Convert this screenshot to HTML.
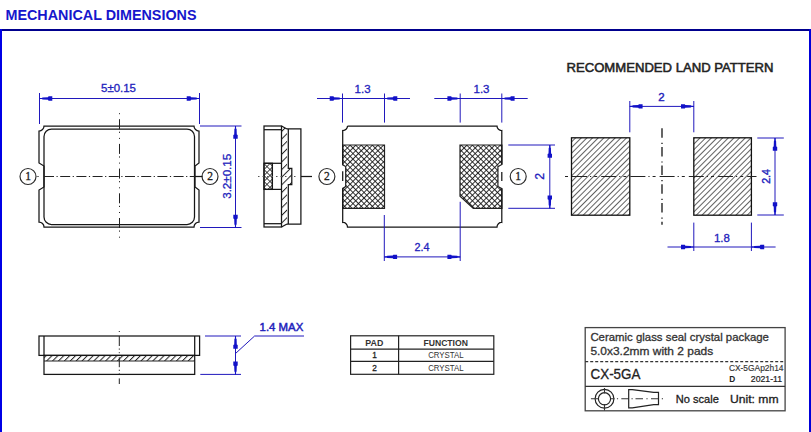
<!DOCTYPE html>
<html><head><meta charset="utf-8"><style>
html,body{margin:0;padding:0;background:#fff;width:811px;height:432px;overflow:hidden}
svg{display:block}
text{font-family:"Liberation Sans",sans-serif}
</style></head><body>
<svg width="811" height="432" viewBox="0 0 811 432">
<defs>
<pattern id="h" width="4" height="4" patternUnits="userSpaceOnUse" patternTransform="rotate(45)"><line x1="0.5" y1="0" x2="0.5" y2="4" stroke="#3a3a3a" stroke-width="0.8"/></pattern>
<pattern id="hs" width="5.4" height="5.4" patternUnits="userSpaceOnUse" patternTransform="rotate(45)"><line x1="0.5" y1="0" x2="0.5" y2="5.4" stroke="#222" stroke-width="1"/></pattern>
<pattern id="h2" width="4.17" height="4.17" patternUnits="userSpaceOnUse" patternTransform="rotate(45)"><rect x="0" y="0" width="1.0" height="4.17" fill="#222"/></pattern>
<pattern id="xh" width="3.93" height="3.93" patternUnits="userSpaceOnUse" patternTransform="rotate(45)"><line x1="0.45" y1="0" x2="0.45" y2="3.93" stroke="#111" stroke-width="0.9"/><line x1="0" y1="0.45" x2="3.93" y2="0.45" stroke="#111" stroke-width="0.9"/></pattern>
<pattern id="xhl" width="4.2" height="4.2" patternUnits="userSpaceOnUse" patternTransform="translate(264 163) rotate(45)"><line x1="0.4" y1="0" x2="0.4" y2="4.2" stroke="#222" stroke-width="0.8"/><line x1="0" y1="0.4" x2="4.2" y2="0.4" stroke="#222" stroke-width="0.8"/></pattern>
</defs>
<rect x="0" y="29" width="811" height="2" fill="#00008e"/>
<rect x="0" y="29" width="2" height="403" fill="#0000e6"/>
<rect x="809" y="29" width="2" height="403" fill="#0000d8"/>
<text x="5.5" y="20.1" font-size="15.4" fill="#1616cc" font-weight="bold" text-anchor="start" textLength="191" lengthAdjust="spacingAndGlyphs">MECHANICAL DIMENSIONS</text>
<path d="M44,126 H194 A5 5 0 0 0 199,131 V163 L195,166 V187 L199,190 V222 A5 5 0 0 0 194,227 H44 A5 5 0 0 0 39,222 V190 L44,187 V166 L39,163 V131 A5 5 0 0 0 44,126 Z" fill="none" stroke="#161616" stroke-width="1.25"/>
<rect x="44" y="129" width="150.5" height="95.5" rx="7.5" fill="none" stroke="#161616" stroke-width="1.25"/>
<line x1="44" y1="176.5" x2="195" y2="176.5" stroke="#222" stroke-width="1" stroke-dasharray="10 2.5 1.2 2.5"/>
<line x1="119.5" y1="113.2" x2="119.5" y2="241" stroke="#222" stroke-width="1" stroke-dasharray="1 5 10 2.5 1.2 5"/>
<circle cx="28" cy="176.5" r="8.0" fill="none" stroke="#2a2a2a" stroke-width="1.15"/>
<text x="28" y="180.0" font-size="11.5" fill="#222" font-weight="normal" text-anchor="middle" font-family="Liberation Serif" style="font-family:'Liberation Serif',serif" stroke="#222" stroke-width="0.3">1</text>
<circle cx="210" cy="176.5" r="8.0" fill="none" stroke="#2a2a2a" stroke-width="1.15"/>
<text x="210" y="180.0" font-size="11.5" fill="#222" font-weight="normal" text-anchor="middle" font-family="Liberation Serif" style="font-family:'Liberation Serif',serif" stroke="#222" stroke-width="0.3">2</text>
<line x1="36" y1="176.5" x2="39" y2="176.5" stroke="#777" stroke-width="1" />
<line x1="195" y1="176.5" x2="202.5" y2="176.5" stroke="#161616" stroke-width="1.25" />
<line x1="39.5" y1="93" x2="39.5" y2="124" stroke="#2018bc" stroke-width="1" />
<line x1="199.5" y1="93" x2="199.5" y2="124" stroke="#2018bc" stroke-width="1" />
<line x1="39.5" y1="98.5" x2="199.5" y2="98.5" stroke="#2018bc" stroke-width="1" />
<polygon points="39.50,98.00 42.00,97.90 42.50,97.40 48.00,97.20 48.50,96.30 52.30,96.30 52.30,100.70 48.50,100.70 48.00,99.80 42.50,99.60 42.00,99.10 39.50,99.00" fill="#1212c8"/>
<polygon points="199.50,98.00 197.00,97.90 196.50,97.40 191.00,97.20 190.50,96.30 186.70,96.30 186.70,100.70 190.50,100.70 191.00,99.80 196.50,99.60 197.00,99.10 199.50,99.00" fill="#1212c8"/>
<text x="118.5" y="92.3" font-size="10.5" fill="#2222bc" font-weight="normal" text-anchor="middle" textLength="35" lengthAdjust="spacingAndGlyphs" stroke="#2222bc" stroke-width="0.3">5±0.15</text>
<line x1="200" y1="126" x2="241.5" y2="126" stroke="#2018bc" stroke-width="1" />
<line x1="200" y1="227.5" x2="241.5" y2="227.5" stroke="#2018bc" stroke-width="1" />
<line x1="235.5" y1="126" x2="235.5" y2="227.5" stroke="#2018bc" stroke-width="1" />
<polygon points="235.00,126.00 234.90,128.50 234.40,129.00 234.20,134.50 233.30,135.00 233.30,138.80 237.70,138.80 237.70,135.00 236.80,134.50 236.60,129.00 236.10,128.50 236.00,126.00" fill="#1212c8"/>
<polygon points="235.00,227.50 234.90,225.00 234.40,224.50 234.20,219.00 233.30,218.50 233.30,214.70 237.70,214.70 237.70,218.50 236.80,219.00 236.60,224.50 236.10,225.00 236.00,227.50" fill="#1212c8"/>
<text x="231.2" y="176.3" font-size="10.5" fill="#2222bc" font-weight="normal" text-anchor="middle" textLength="45" lengthAdjust="spacingAndGlyphs" transform="rotate(-90 231.2 176.3)" stroke="#2222bc" stroke-width="0.3">3.2±0.15</text>
<rect x="264" y="126" width="17.5" height="101" fill="none" stroke="#161616" stroke-width="1.25"/>
<line x1="264" y1="129.7" x2="281.5" y2="129.7" stroke="#161616" stroke-width="1.25" />
<line x1="264" y1="223.7" x2="281.5" y2="223.7" stroke="#161616" stroke-width="1.25" />
<line x1="264" y1="163.3" x2="281.5" y2="163.3" stroke="#161616" stroke-width="1.25" />
<line x1="264" y1="189.4" x2="281.5" y2="189.4" stroke="#161616" stroke-width="1.25" />
<line x1="272.4" y1="163.3" x2="272.4" y2="189.4" stroke="#161616" stroke-width="1.25" />
<rect x="264" y="163.3" width="8.4" height="26.1" fill="url(#xhl)"/>
<rect x="264" y="163.3" width="8.4" height="26.1" fill="none" stroke="#161616" stroke-width="1.25"/>
<path d="M281.5,126 L287,129 V168.3 H291.8 V184.5 H287 V224 L281.5,227 Z" fill="url(#hs)"/>
<path d="M281.5,126 L287,129 M281.5,227 L287,224" stroke="#161616" stroke-width="1.25"/>
<path d="M287,128.8 H300.9 V224.2 H287 M288.3,128.8 V168.3 H291.8 V184.5 H288.3 V224.2" fill="none" stroke="#161616" stroke-width="1.25"/>
<line x1="258" y1="176.5" x2="296" y2="176.5" stroke="#555" stroke-width="1" stroke-dasharray="1.5 3"/>
<line x1="301" y1="176.5" x2="312" y2="176.5" stroke="#161616" stroke-width="1.25" />
<circle cx="326.9" cy="176.5" r="8.0" fill="none" stroke="#2a2a2a" stroke-width="1.15"/>
<text x="326.9" y="180.0" font-size="11.5" fill="#222" font-weight="normal" text-anchor="middle" font-family="Liberation Serif" style="font-family:'Liberation Serif',serif" stroke="#222" stroke-width="0.3">2</text>
<rect x="342.7" y="145" width="41.8" height="63.3" fill="url(#xh)"/>
<rect x="341" y="165" width="4.6" height="23" fill="#fff"/>
<path d="M342.7,208.3 V188.4 L345.7,186.6 V166.6 L342.7,164.8 V145 H384.5 V208.3 Z" fill="none" stroke="#222" stroke-width="1.2"/>
<path d="M460,145 H501.9 V208.3 H473.3 L460,196.2 Z" fill="url(#xh)"/>
<rect x="498.2" y="165" width="5" height="23" fill="#fff"/>
<path d="M501.9,145 V164.5 L497.9,166.6 V186.6 L501.9,188.6 V208.3 H473.3 L460,196.2 V145 Z" fill="none" stroke="#222" stroke-width="1.2"/>
<path d="M347.5,126 H497 A4.5 4.5 0 0 0 501.8,130.5 V164.5 M501.8,172 V181 M501.8,188.6 V222.5 A4.5 4.5 0 0 0 497,227 H347.5 A4.5 4.5 0 0 0 342.7,222.5 V188.4 M342.7,181 V171.3 M342.7,164.8 V130.5 A4.5 4.5 0 0 0 347.5,126" fill="none" stroke="#161616" stroke-width="1.25"/>
<circle cx="518.2" cy="176.5" r="8.0" fill="none" stroke="#2a2a2a" stroke-width="1.15"/>
<text x="518.2" y="180.0" font-size="11.5" fill="#222" font-weight="normal" text-anchor="middle" font-family="Liberation Serif" style="font-family:'Liberation Serif',serif" stroke="#222" stroke-width="0.3">1</text>
<line x1="342.5" y1="93.5" x2="342.5" y2="122.6" stroke="#2018bc" stroke-width="1" />
<line x1="384.5" y1="93.5" x2="384.5" y2="122.6" stroke="#2018bc" stroke-width="1" />
<line x1="317" y1="98.5" x2="410" y2="98.5" stroke="#2018bc" stroke-width="1" />
<polygon points="342.50,98.00 340.00,97.90 339.50,97.40 334.00,97.20 333.50,96.30 329.70,96.30 329.70,100.70 333.50,100.70 334.00,99.80 339.50,99.60 340.00,99.10 342.50,99.00" fill="#1212c8"/>
<polygon points="384.50,98.00 387.00,97.90 387.50,97.40 393.00,97.20 393.50,96.30 397.30,96.30 397.30,100.70 393.50,100.70 393.00,99.80 387.50,99.60 387.00,99.10 384.50,99.00" fill="#1212c8"/>
<text x="362.6" y="93.2" font-size="11.3" fill="#2222bc" font-weight="normal" text-anchor="middle" textLength="16" lengthAdjust="spacingAndGlyphs" stroke="#2222bc" stroke-width="0.3">1.3</text>
<line x1="460.2" y1="93.5" x2="460.2" y2="122.6" stroke="#2018bc" stroke-width="1" />
<line x1="501.8" y1="93.5" x2="501.8" y2="122.6" stroke="#2018bc" stroke-width="1" />
<line x1="434.3" y1="98.5" x2="527.7" y2="98.5" stroke="#2018bc" stroke-width="1" />
<polygon points="460.20,98.00 457.70,97.90 457.20,97.40 451.70,97.20 451.20,96.30 447.40,96.30 447.40,100.70 451.20,100.70 451.70,99.80 457.20,99.60 457.70,99.10 460.20,99.00" fill="#1212c8"/>
<polygon points="501.80,98.00 504.30,97.90 504.80,97.40 510.30,97.20 510.80,96.30 514.60,96.30 514.60,100.70 510.80,100.70 510.30,99.80 504.80,99.60 504.30,99.10 501.80,99.00" fill="#1212c8"/>
<text x="481.5" y="93.2" font-size="11" fill="#2222bc" font-weight="normal" text-anchor="middle" textLength="16" lengthAdjust="spacingAndGlyphs" stroke="#2222bc" stroke-width="0.3">1.3</text>
<line x1="508.3" y1="145" x2="555" y2="145" stroke="#2018bc" stroke-width="1" />
<line x1="508.3" y1="208.3" x2="555" y2="208.3" stroke="#2018bc" stroke-width="1" />
<line x1="549.8" y1="145" x2="549.8" y2="208.3" stroke="#2018bc" stroke-width="1" />
<polygon points="549.30,145.00 549.20,147.50 548.70,148.00 548.50,153.50 547.60,154.00 547.60,157.80 552.00,157.80 552.00,154.00 551.10,153.50 550.90,148.00 550.40,147.50 550.30,145.00" fill="#1212c8"/>
<polygon points="549.30,208.30 549.20,205.80 548.70,205.30 548.50,199.80 547.60,199.30 547.60,195.50 552.00,195.50 552.00,199.30 551.10,199.80 550.90,205.30 550.40,205.80 550.30,208.30" fill="#1212c8"/>
<text x="543.6" y="176.2" font-size="12.3" fill="#2222bc" font-weight="normal" text-anchor="middle" transform="rotate(-90 543.6 176.2)" stroke="#2222bc" stroke-width="0.3">2</text>
<line x1="384.3" y1="215" x2="384.3" y2="261" stroke="#2018bc" stroke-width="1" />
<line x1="460.2" y1="201.8" x2="460.2" y2="261" stroke="#2018bc" stroke-width="1" />
<line x1="384.3" y1="256.9" x2="460.2" y2="256.9" stroke="#2018bc" stroke-width="1" />
<polygon points="384.30,256.40 386.80,256.30 387.30,255.80 392.80,255.60 393.30,254.70 397.10,254.70 397.10,259.10 393.30,259.10 392.80,258.20 387.30,258.00 386.80,257.50 384.30,257.40" fill="#1212c8"/>
<polygon points="460.20,256.40 457.70,256.30 457.20,255.80 451.70,255.60 451.20,254.70 447.40,254.70 447.40,259.10 451.20,259.10 451.70,258.20 457.20,258.00 457.70,257.50 460.20,257.40" fill="#1212c8"/>
<text x="422" y="251" font-size="11" fill="#2222bc" font-weight="normal" text-anchor="middle" textLength="15" lengthAdjust="spacingAndGlyphs" stroke="#2222bc" stroke-width="0.3">2.4</text>
<text x="566.5" y="71.7" font-size="12.2" fill="#222" font-weight="normal" text-anchor="start" textLength="207" lengthAdjust="spacingAndGlyphs" stroke="#222" stroke-width="0.5">RECOMMENDED LAND PATTERN</text>
<rect x="571.5" y="137.8" width="58.3" height="77.4" fill="url(#h)"/>
<rect x="571.5" y="137.8" width="58.3" height="77.4" fill="none" stroke="#111" stroke-width="1.3"/>
<rect x="693.8" y="137.8" width="57.6" height="77.4" fill="url(#h)"/>
<rect x="693.8" y="137.8" width="57.6" height="77.4" fill="none" stroke="#111" stroke-width="1.3"/>
<line x1="565" y1="176.5" x2="756.5" y2="176.5" stroke="#222" stroke-width="1" stroke-dasharray="3 4 15 3 1.2 3"/>
<line x1="662" y1="128.2" x2="662" y2="224.7" stroke="#000" stroke-width="1.2" stroke-dasharray="9.5 5 1.2 3"/>
<line x1="629.8" y1="101" x2="629.8" y2="132.3" stroke="#2018bc" stroke-width="1" />
<line x1="693.8" y1="101" x2="693.8" y2="132.3" stroke="#2018bc" stroke-width="1" />
<line x1="629.8" y1="106.4" x2="693.8" y2="106.4" stroke="#2018bc" stroke-width="1" />
<polygon points="629.80,105.90 632.30,105.80 632.80,105.30 638.30,105.10 638.80,104.20 642.60,104.20 642.60,108.60 638.80,108.60 638.30,107.70 632.80,107.50 632.30,107.00 629.80,106.90" fill="#1212c8"/>
<polygon points="693.80,105.90 691.30,105.80 690.80,105.30 685.30,105.10 684.80,104.20 681.00,104.20 681.00,108.60 684.80,108.60 685.30,107.70 690.80,107.50 691.30,107.00 693.80,106.90" fill="#1212c8"/>
<text x="661.4" y="101.2" font-size="11.5" fill="#2222bc" font-weight="normal" text-anchor="middle" stroke="#2222bc" stroke-width="0.4">2</text>
<line x1="757.3" y1="138" x2="783.8" y2="138" stroke="#2018bc" stroke-width="1" />
<line x1="757.3" y1="215" x2="783.8" y2="215" stroke="#2018bc" stroke-width="1" />
<line x1="775" y1="138" x2="775" y2="215" stroke="#2018bc" stroke-width="1" />
<polygon points="774.50,138.00 774.40,140.50 773.90,141.00 773.70,146.50 772.80,147.00 772.80,150.80 777.20,150.80 777.20,147.00 776.30,146.50 776.10,141.00 775.60,140.50 775.50,138.00" fill="#1212c8"/>
<polygon points="774.50,215.00 774.40,212.50 773.90,212.00 773.70,206.50 772.80,206.00 772.80,202.20 777.20,202.20 777.20,206.00 776.30,206.50 776.10,212.00 775.60,212.50 775.50,215.00" fill="#1212c8"/>
<text x="769.7" y="176.4" font-size="11.8" fill="#2222bc" font-weight="normal" text-anchor="middle" textLength="14.8" lengthAdjust="spacingAndGlyphs" transform="rotate(-90 769.7 176.4)" stroke="#2222bc" stroke-width="0.4">2.4</text>
<line x1="693.8" y1="222.6" x2="693.8" y2="251" stroke="#2018bc" stroke-width="1" />
<line x1="751.4" y1="222.6" x2="751.4" y2="251" stroke="#2018bc" stroke-width="1" />
<line x1="667.5" y1="247" x2="775.6" y2="247" stroke="#2018bc" stroke-width="1" />
<polygon points="693.80,246.50 691.30,246.40 690.80,245.90 685.30,245.70 684.80,244.80 681.00,244.80 681.00,249.20 684.80,249.20 685.30,248.30 690.80,248.10 691.30,247.60 693.80,247.50" fill="#1212c8"/>
<polygon points="751.40,246.50 753.90,246.40 754.40,245.90 759.90,245.70 760.40,244.80 764.20,244.80 764.20,249.20 760.40,249.20 759.90,248.30 754.40,248.10 753.90,247.60 751.40,247.50" fill="#1212c8"/>
<text x="721.9" y="242.3" font-size="11.8" fill="#2222bc" font-weight="normal" text-anchor="middle" textLength="16" lengthAdjust="spacingAndGlyphs" stroke="#2222bc" stroke-width="0.3">1.8</text>
<rect x="39" y="336" width="160.6" height="19.4" fill="none" stroke="#161616" stroke-width="1.25"/>
<line x1="44" y1="336" x2="44" y2="355.4" stroke="#161616" stroke-width="1.25" />
<line x1="194.7" y1="336" x2="194.7" y2="355.4" stroke="#161616" stroke-width="1.25" />
<rect x="44" y="355.4" width="150.7" height="5.6" fill="url(#h2)"/>
<rect x="44" y="355.4" width="150.7" height="19" fill="none" stroke="#161616" stroke-width="1.25"/>
<line x1="44" y1="361" x2="194.7" y2="361" stroke="#222" stroke-width="1" />
<line x1="119.3" y1="331" x2="119.3" y2="384" stroke="#222" stroke-width="1" stroke-dasharray="1 4 10 2.5 1.2 2.5"/>
<line x1="205" y1="336" x2="241" y2="336" stroke="#2018bc" stroke-width="1" />
<line x1="200.3" y1="374.4" x2="241" y2="374.4" stroke="#2018bc" stroke-width="1" />
<line x1="235.5" y1="336" x2="235.5" y2="374.4" stroke="#2018bc" stroke-width="1" />
<polygon points="235.00,336.00 234.90,338.50 234.40,339.00 234.20,344.50 233.30,345.00 233.30,348.80 237.70,348.80 237.70,345.00 236.80,344.50 236.60,339.00 236.10,338.50 236.00,336.00" fill="#1212c8"/>
<polygon points="235.00,374.40 234.90,371.90 234.40,371.40 234.20,365.90 233.30,365.40 233.30,361.60 237.70,361.60 237.70,365.40 236.80,365.90 236.60,371.40 236.10,371.90 236.00,374.40" fill="#1212c8"/>
<polyline points="235.5,353.5 254.6,336 304,336" fill="none" stroke="#2018bc" stroke-width="1"/>
<text x="259.6" y="331.3" font-size="10.6" fill="#2222bc" font-weight="normal" text-anchor="start" textLength="43.7" lengthAdjust="spacingAndGlyphs" stroke="#2222bc" stroke-width="0.45">1.4 MAX</text>
<rect x="350.6" y="335.8" width="143.2" height="38.5" fill="none" stroke="#222" stroke-width="1.2"/>
<line x1="350.6" y1="349.1" x2="493.8" y2="349.1" stroke="#222" stroke-width="1.2" />
<line x1="350.6" y1="361.3" x2="493.8" y2="361.3" stroke="#222" stroke-width="1.2" />
<line x1="398.6" y1="335.8" x2="398.6" y2="374.3" stroke="#222" stroke-width="1.2" />
<text x="374.3" y="345.6" font-size="8.2" fill="#333" font-weight="bold" text-anchor="middle" textLength="18" lengthAdjust="spacingAndGlyphs">PAD</text>
<text x="445.7" y="345.6" font-size="8.2" fill="#333" font-weight="bold" text-anchor="middle" textLength="44.5" lengthAdjust="spacingAndGlyphs">FUNCTION</text>
<text x="374.5" y="358.4" font-size="8.3" fill="#222" font-weight="normal" text-anchor="middle" stroke="#222" stroke-width="0.3">1</text>
<text x="445.9" y="358.4" font-size="8.5" fill="#333" font-weight="normal" text-anchor="middle" textLength="35.5" lengthAdjust="spacingAndGlyphs">CRYSTAL</text>
<text x="374.5" y="371.1" font-size="8.3" fill="#222" font-weight="normal" text-anchor="middle" stroke="#222" stroke-width="0.3">2</text>
<text x="445.9" y="371.1" font-size="8.5" fill="#333" font-weight="normal" text-anchor="middle" textLength="35.5" lengthAdjust="spacingAndGlyphs">CRYSTAL</text>
<rect x="585.2" y="327.6" width="199.9" height="83.2" fill="none" stroke="#444" stroke-width="1.3"/>
<line x1="585.2" y1="361.6" x2="785.1" y2="361.6" stroke="#333" stroke-width="1.2" stroke-dasharray="3 2"/>
<line x1="585.2" y1="386.4" x2="785.1" y2="386.4" stroke="#333" stroke-width="1.2" />
<text x="590.4" y="341.2" font-size="11" fill="#333" font-weight="normal" text-anchor="start" textLength="178.5" lengthAdjust="spacingAndGlyphs" stroke="#333" stroke-width="0.3">Ceramic glass seal crystal package</text>
<text x="590.4" y="354.5" font-size="11" fill="#333" font-weight="normal" text-anchor="start" textLength="122.8" lengthAdjust="spacingAndGlyphs" stroke="#333" stroke-width="0.3">5.0x3.2mm with 2 pads</text>
<text x="590.6" y="378.5" font-size="14.1" fill="#222" font-weight="normal" text-anchor="start" textLength="49.8" lengthAdjust="spacingAndGlyphs" stroke="#222" stroke-width="0.3">CX-5GA</text>
<text x="728.9" y="370.8" font-size="8.3" fill="#333" font-weight="normal" text-anchor="start" textLength="54.6" lengthAdjust="spacingAndGlyphs" stroke="#333" stroke-width="0.15">CX-5GAp2h14</text>
<text x="729.3" y="382.2" font-size="8.3" fill="#222" font-weight="bold" text-anchor="start">D</text>
<text x="750.8" y="382.2" font-size="8.5" fill="#222" font-weight="normal" text-anchor="start" textLength="31.3" lengthAdjust="spacingAndGlyphs" stroke="#222" stroke-width="0.2">2021-11</text>
<text x="675.7" y="403.3" font-size="11" fill="#222" font-weight="normal" text-anchor="start" textLength="43.1" lengthAdjust="spacingAndGlyphs" stroke="#222" stroke-width="0.3">No scale</text>
<text x="730" y="403.1" font-size="11" fill="#222" font-weight="normal" text-anchor="start" textLength="48.6" lengthAdjust="spacingAndGlyphs" stroke="#222" stroke-width="0.3">Unit: mm</text>
<circle cx="604.5" cy="398.8" r="9.4" fill="none" stroke="#222" stroke-width="1.15"/>
<circle cx="604.5" cy="398.8" r="6.1" fill="none" stroke="#222" stroke-width="1.15"/>
<path d="M604.5,388 V393.5 M604.5,404 V410.6 M590.9,398.8 H598.5 M610.5,398.8 H614.5 M616.9,398.8 H618.1 M621.3,398.8 H628.7 M631.5,398.8 H632.7 M635.5,398.8 H643 M646.4,398.8 H647.6 M651,398.8 H658.5 M661.8,398.8 H663" stroke="#333" stroke-width="1.1"/>
<path d="M628.7,389.7 H632.3 L653.7,392.3 H658.5 V404.7 H653.7 L632.3,407.8 H628.7 Z" fill="none" stroke="#222" stroke-width="1.2"/>
</svg>
</body></html>
